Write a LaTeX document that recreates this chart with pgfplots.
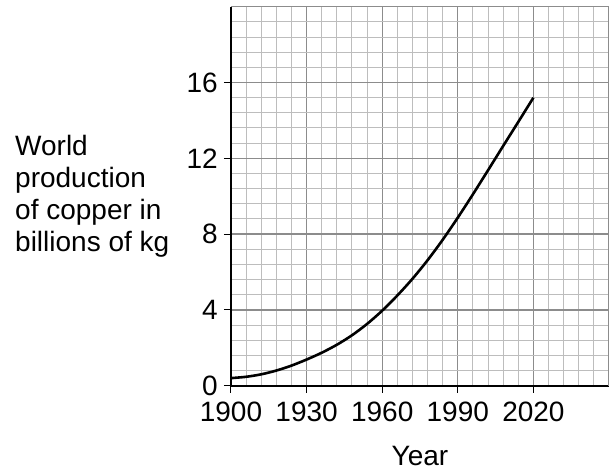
\documentclass[border=0pt]{standalone}
\usepackage{pgfplots}
\pgfplotsset{compat=1.18}
\usepackage{fontspec}
\setmainfont{Liberation Sans}
\definecolor{majgrid}{gray}{0.55}
\definecolor{mingrid}{gray}{0.74}
\begin{document}
\begin{tikzpicture}
\begin{axis}[
  scale only axis,
  width=378bp, height=379bp,
  xmin=1900, xmax=2050, ymin=0, ymax=20,
  axis x line*=bottom, axis y line*=left,
  axis line style={line width=2bp, black},
  xtick={1900,1930,1960,1990,2020},
  ytick={0,4,8,12,16},
  extra x ticks={2050}, extra x tick labels={},
  extra x tick style={major tick length=0pt, grid=major},
  extra y ticks={20}, extra y tick labels={},
  extra y tick style={major tick length=0pt, grid=major},
  minor xtick={1906,1912,...,2044},
  minor ytick={0.8,1.6,2.4,3.2,4.8,5.6,6.4,7.2,8.8,9.6,10.4,11.2,12.8,13.6,14.4,15.2,16.8,17.6,18.4,19.2},
  grid=both,
  major grid style={majgrid, line width=1.3bp},
  minor grid style={mingrid, line width=1bp},
  tick align=outside,
  major tick length=7bp, minor tick length=0pt,
  tick style={black, line width=1bp},
  /pgf/number format/assume math mode=true,
  /pgf/number format/1000 sep={},
  tick label style={font=\fontsize{28bp}{32bp}\selectfont, inner sep=1bp},
  xticklabel style={yshift=-8bp},
  yticklabel style={xshift=-5bp},
  xlabel={Year},
  xlabel style={at={(rel axis cs:0.5,0)}, anchor=base, yshift=-79.3bp, inner sep=0pt, font=\fontsize{28bp}{32bp}\selectfont},
  clip=false,
]
\addplot[black, line width=2.6bp, smooth] coordinates {
(1900,0.40) (1906,0.47) (1912,0.60) (1918,0.80) (1924,1.06) (1930,1.38)
(1936,1.74) (1942,2.16) (1948,2.66) (1954,3.26) (1960,3.96) (1966,4.76)
(1972,5.64) (1978,6.62) (1984,7.70) (1990,8.87) (1996,10.10) (2002,11.37)
(2008,12.65) (2014,13.92) (2020,15.20)
};
\end{axis}
\node[anchor=west, align=left, inner sep=0pt, font=\fontsize{28bp}{32bp}\selectfont] at (-216bp,189.7bp) {World\\production\\of copper in\\billions of kg};
\pgfresetboundingbox
\path[use as bounding box] (-231bp,-86.3bp) rectangle (378bp,385.7bp);
\end{tikzpicture}
\end{document}
